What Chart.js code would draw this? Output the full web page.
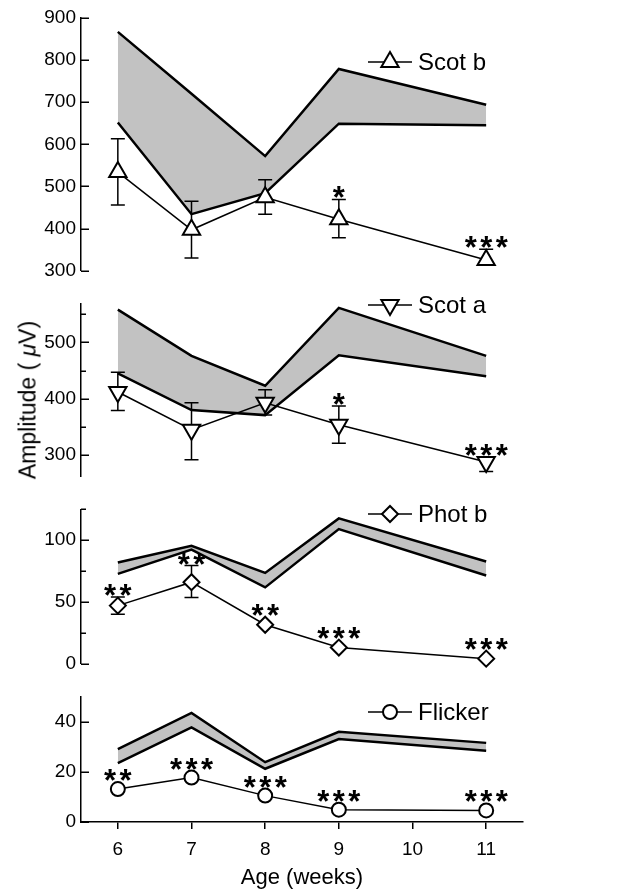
<!DOCTYPE html>
<html>
<head>
<meta charset="utf-8">
<script src="https://cdn.jsdelivr.net/npm/chart.js@4.4.1/dist/chart.umd.min.js"></script>
<style>
  html, body { margin: 0; padding: 0; background: #fff; }
  #wrap { position: relative; width: 632px; height: 896px; overflow: hidden; }
  #wrap canvas { position: absolute; left: 0; }
  #yTitle {
    position: absolute;
    left: 28px;
    top: 400px;
    transform: translate(-50%, -50%) rotate(-90deg);
    white-space: nowrap;
    font: 23px "Liberation Sans", Arial, sans-serif;
    color: #000;
  }
</style>
</head>
<body>
<div id="wrap">
  <canvas id="scotB" width="632" height="287"></canvas>
  <canvas id="scotA" width="632" height="206"></canvas>
  <canvas id="photB" width="632" height="187"></canvas>
  <canvas id="flicker" width="632" height="216"></canvas>
  <div id="yTitle">Amplitude ( <i>μ</i>V)</div>
</div>
<script>
// x categories (age in weeks) and x tick labels
const weeks = [6, 7, 8, 9, 11];
const xTickLabels = [6, 7, 8, 9, 10, 11];

// Scot b
const scotBMean = [534, 397, 474, 422, 325];
const scotBErrUp = [79, 68, 42, 47, 26];
const scotBErrDown = [78, 67, 40, 44, 0];
const scotBBandHigh = [867, 720, 572, 779, 694];
const scotBBandLow = [652, 434, 484, 649, 645];
const scotBStars = ["", "", "", "*", "***"];
const scotBTicks = [300, 400, 500, 600, 700, 800, 900];

// Scot a
const scotAMean = [412, 345, 393, 354, 288];
const scotAErrUp = [35, 48, 23, 33, 0];
const scotAErrDown = [33, 53, 22, 33, 17];
const scotABandHigh = [558, 476, 423, 561, 476];
const scotABandLow = [445, 380, 371, 477, 440];
const scotAStars = ["", "", "", "*", "***"];
const scotATicks = [300, 400, 500];

// Phot b
const photBMean = [47, 66, 31.5, 13, 4];
const photBErrUp = [7, 13.5, 0, 0, 0];
const photBErrDown = [7, 12.5, 0, 0, 0];
const photBBandHigh = [82, 95.5, 73.5, 117.7, 82.8];
const photBBandLow = [72.7, 92.4, 61.8, 109, 71.4];
const photBStars = ["**", "**", "**", "***", "***"];
const photBTicks = [0, 50, 100];

// Flicker
const flickerMean = [13.1, 17.7, 10.5, 4.9, 4.6];
const flickerErrUp = [0, 0, 0, 0, 0];
const flickerErrDown = [0, 0, 0, 0, 0];
const flickerBandHigh = [29, 43.4, 23.8, 35.9, 31.5];
const flickerBandLow = [23.4, 37.7, 21.2, 33, 28.4];
const flickerStars = ["**", "***", "***", "***", "***"];
const flickerTicks = [0, 20, 40];

Chart.defaults.font.family = '"Liberation Sans", Arial, sans-serif';
Chart.defaults.color = "#000";

const FONT = '"Liberation Sans", Arial, sans-serif';
const BAND_GRAY = "#c2c2c2";

const panels = [
  {
    canvasId: "scotB", top: 0, height: 287, padTop: 18, padBottom: 11,
    min: 300, max: 900, minorStep: 50, majors: scotBTicks,
    mean: scotBMean, errUp: scotBErrUp, errDown: scotBErrDown,
    high: scotBBandHigh, low: scotBBandLow, stars: scotBStars,
    label: "Scot b", pointStyle: "triangle", rotation: 0, radius: 10, markerTop: 10,
    legendY: 62, showX: false,
  },
  {
    canvasId: "scotA", top: 287, height: 206, padTop: 11, padBottom: 9,
    min: 262, max: 569, minorStep: 50, majors: scotATicks,
    mean: scotAMean, errUp: scotAErrUp, errDown: scotAErrDown,
    high: scotABandHigh, low: scotABandLow, stars: scotAStars,
    label: "Scot a", pointStyle: "triangle", rotation: 180, radius: 10, markerTop: 5,
    legendY: 18, showX: false,
  },
  {
    canvasId: "photB", top: 493, height: 187, padTop: 11, padBottom: 11,
    min: 0, max: 125, minorStep: 25, majors: photBTicks,
    mean: photBMean, errUp: photBErrUp, errDown: photBErrDown,
    high: photBBandHigh, low: photBBandLow, stars: photBStars,
    label: "Phot b", pointStyle: "rectRot", rotation: 0, radius: 8, markerTop: 8,
    legendY: 21, showX: false,
  },
  {
    canvasId: "flicker", top: 680, height: 216, padTop: 9, padBottom: 0,
    min: 0, max: 50, minorStep: 10, majors: flickerTicks,
    mean: flickerMean, errUp: flickerErrUp, errDown: flickerErrDown,
    high: flickerBandHigh, low: flickerBandLow, stars: flickerStars,
    label: "Flicker", pointStyle: "circle", rotation: 0, radius: 7, markerTop: 7,
    legendY: 32, showX: true,
  },
];

function toPoints(values) {
  return weeks.map((w, i) => ({ x: w, y: values[i] }));
}

function drawMarker(ctx, panel, x, y) {
  ctx.save();
  ctx.fillStyle = "#fff";
  ctx.strokeStyle = "#000";
  ctx.lineWidth = 2;
  Chart.helpers.drawPoint(ctx, {
    pointStyle: panel.pointStyle,
    rotation: panel.rotation,
    radius: panel.radius,
    borderWidth: 2,
  }, x, y);
  ctx.restore();
}

// error bars, inward y ticks, significance stars and the legend key
function makeExtras(panel) {
  return {
    id: "panelExtras",
    beforeDatasetDraw(chart, args) {
      if (args.index !== 0) return;
      const { ctx, scales } = chart;
      ctx.save();
      ctx.strokeStyle = "#000";
      ctx.lineWidth = 1.5;
      weeks.forEach((w, i) => {
        const x = scales.x.getPixelForValue(w);
        const y0 = scales.y.getPixelForValue(panel.mean[i]);
        [panel.errUp[i], -panel.errDown[i]].forEach((e) => {
          if (!e) return;
          const y1 = scales.y.getPixelForValue(panel.mean[i] + e);
          ctx.beginPath();
          ctx.moveTo(x, y0);
          ctx.lineTo(x, y1);
          ctx.moveTo(x - 7, y1);
          ctx.lineTo(x + 7, y1);
          ctx.stroke();
        });
      });
      ctx.restore();
    },
    afterDatasetsDraw(chart) {
      const { ctx, scales, chartArea } = chart;
      const yScale = scales.y;
      ctx.save();

      // ticks pointing into the plot
      ctx.strokeStyle = "#000";
      ctx.lineWidth = 1.5;
      yScale.ticks.forEach((t) => {
        const y = Math.round(yScale.getPixelForValue(t.value)) + 0.25;
        const len = panel.majors.includes(t.value) ? 8 : 5;
        ctx.beginPath();
        ctx.moveTo(chartArea.left, y);
        ctx.lineTo(chartArea.left + len, y);
        ctx.stroke();
      });

      // stars, one glyph at a time so they keep their spacing
      ctx.fillStyle = "#000";
      ctx.font = "bold 31px " + FONT;
      ctx.textAlign = "center";
      ctx.textBaseline = "alphabetic";
      weeks.forEach((w, i) => {
        const n = panel.stars[i].length;
        if (!n) return;
        const x = scales.x.getPixelForValue(w);
        const markTop = yScale.getPixelForValue(panel.mean[i]) - panel.markerTop;
        const capTop = panel.errUp[i] ? yScale.getPixelForValue(panel.mean[i] + panel.errUp[i]) : markTop;
        const top = Math.min(markTop, capTop);
        for (let k = 0; k < n; k++) {
          ctx.fillText("*", x + (k - (n - 1) / 2) * 15.5, top + 9);
        }
      });

      // legend key: line - marker - line, then label
      const lx = 368;
      const ly = panel.legendY;
      ctx.beginPath();
      ctx.moveTo(lx, ly);
      ctx.lineTo(lx + 44, ly);
      ctx.stroke();
      drawMarker(ctx, panel, lx + 22, ly);
      ctx.fillStyle = "#000";
      ctx.font = "24px " + FONT;
      ctx.textAlign = "left";
      ctx.textBaseline = "middle";
      ctx.fillText(panel.label, lx + 50, ly + 1);
      ctx.restore();
    },
  };
}

panels.forEach((panel) => {
  const canvas = document.getElementById(panel.canvasId);
  canvas.style.top = panel.top + "px";

  const xScale = {
    type: "linear",
    min: 5.5,
    max: 11.5,
    display: panel.showX,
  };
  if (panel.showX) {
    Object.assign(xScale, {
      afterBuildTicks: (scale) => {
        scale.ticks = xTickLabels.map((v) => ({ value: v }));
      },
      afterFit: (scale) => {
        scale.height = 74;
      },
      ticks: { font: { size: 19 }, padding: 9, color: "#000" },
      grid: { drawOnChartArea: false, drawTicks: true, tickLength: 7, color: "#000", lineWidth: 1.5 },
      border: { display: true, color: "#000", width: 1.5 },
      title: {
        display: true,
        text: "Age (weeks)",
        font: { size: 22 },
        color: "#000",
        padding: { top: 5, bottom: 5 },
      },
    });
  }

  new Chart(canvas, {
    type: "line",
    data: {
      datasets: [
        {
          label: panel.label,
          data: toPoints(panel.mean),
          borderColor: "#000",
          borderWidth: 1.5,
          pointStyle: panel.pointStyle,
          pointRotation: panel.rotation,
          pointRadius: panel.radius,
          pointBackgroundColor: "#fff",
          pointBorderColor: "#000",
          pointBorderWidth: 2,
          fill: false,
          clip: false,
        },
        {
          label: panel.label + " normal high",
          data: toPoints(panel.high),
          borderColor: "#000",
          borderWidth: 2.5,
          pointRadius: 0,
          backgroundColor: BAND_GRAY,
          fill: "+1",
          clip: false,
        },
        {
          label: panel.label + " normal low",
          data: toPoints(panel.low),
          borderColor: "#000",
          borderWidth: 2.5,
          pointRadius: 0,
          fill: false,
          clip: false,
        },
      ],
    },
    options: {
      responsive: false,
      animation: false,
      devicePixelRatio: 1,
      layout: { padding: { left: 0, right: 109, top: panel.padTop, bottom: panel.padBottom } },
      elements: { line: { tension: 0 } },
      scales: {
        x: xScale,
        y: {
          type: "linear",
          min: panel.min,
          max: panel.max,
          afterBuildTicks: (scale) => {
            const vals = [];
            for (let v = Math.ceil(panel.min / panel.minorStep) * panel.minorStep; v <= panel.max; v += panel.minorStep) {
              vals.push(v);
            }
            scale.ticks = vals.map((v) => ({ value: v }));
          },
          afterFit: (scale) => {
            scale.width = 81;
          },
          ticks: {
            font: { size: 19 },
            color: "#000",
            padding: 5,
            callback: (v) => (panel.majors.includes(v) ? String(v) : ""),
          },
          grid: { drawOnChartArea: false, drawTicks: false },
          border: { display: true, color: "#000", width: 1.5 },
        },
      },
      plugins: {
        legend: { display: false },
        tooltip: { enabled: false },
        filler: { drawTime: "beforeDatasetsDraw" },
      },
    },
    plugins: [makeExtras(panel)],
  });
});
</script>
</body>
</html>
